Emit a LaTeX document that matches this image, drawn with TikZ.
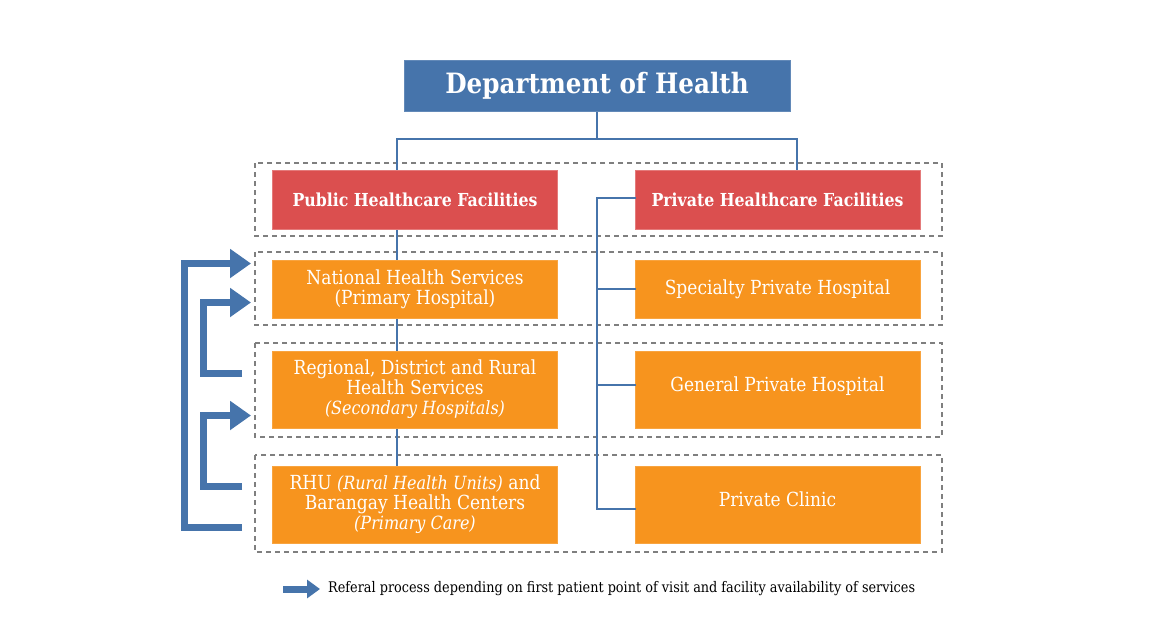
\documentclass[tikz,border=0pt]{standalone}
\usepackage{fontspec}
\setmainfont{DejaVu Serif}[FakeStretch=0.88]
\usetikzlibrary{arrows.meta}
\definecolor{healthblue}{HTML}{4674AB}
\definecolor{healthred}{HTML}{DB4F4F}
\definecolor{healthorange}{HTML}{F7941E}
\definecolor{groupgray}{HTML}{7F7F7F}
\newcommand{\levelit}[1]{{\fontsize{18.2}{20}\selectfont\itshape #1}}
\tikzset{
    deptbox/.style={draw=healthblue!85!white,fill=healthblue,text=white,align=center,
        minimum width=386pt,minimum height=51pt,inner sep=0pt,font=\bfseries\fontsize{28}{30}\selectfont},
    sectorbox/.style={draw=healthred!75!white,fill=healthred,text=white,align=center,
        minimum width=285pt,minimum height=59pt,inner sep=0pt,font=\bfseries\fontsize{17.9}{20}\selectfont},
    levelbox/.style={draw=healthorange!85!white,fill=healthorange,text=white,align=center,
        minimum width=285pt,inner sep=0pt,font=\fontsize{19.4}{20}\selectfont},
    groupbox/.style={draw=groupgray,dashed,dash pattern=on 5pt off 4pt,line width=1.5pt},
    referal/.style={draw=healthblue,line width=7pt,-{Triangle[length=21pt,width=28pt,fill=healthblue]}},
}
\begin{document}
\begin{tikzpicture}[x=1pt,y=-1pt]
\useasboundingbox (0,0) rectangle (1170,643);
\fill[white] (0,0) rectangle (1170,643);

\begin{scope}
    \draw [groupbox] (255,163) rectangle (942,236);
    \draw [groupbox] (255,252) rectangle (942,325);
    \draw [groupbox] (255,343) rectangle (942,437);
    \draw [groupbox] (255,455) rectangle (942,552);
\end{scope}

\begin{scope}
    \coordinate (Bus) at (596.5,139);
    \coordinate (PubX) at (396.5,139);
    \coordinate (PriX) at (796.5,139);
    \coordinate (Trunk) at (596.5,198);

    \coordinate (OuterA) at (242,527.5);
    \coordinate (OuterB) at (184.5,527.5);
    \coordinate (OuterC) at (184.5,263.5);
    \coordinate (OuterD) at (251,263.5);
    \coordinate (UpperA) at (242,373.5);
    \coordinate (UpperB) at (203.5,373.5);
    \coordinate (UpperC) at (203.5,302.5);
    \coordinate (UpperD) at (251,302.5);
    \coordinate (LowerA) at (242,486.5);
    \coordinate (LowerB) at (203.5,486.5);
    \coordinate (LowerC) at (203.5,415.5);
    \coordinate (LowerD) at (251,415.5);
    \coordinate (KeyA) at (283,589);
    \coordinate (KeyB) at (320,589);
\end{scope}

\begin{scope}[every edge/.style={draw=healthblue,line width=2pt,line cap=rect}]
    \path [-] (PubX) edge (PriX);
    \path [-] (Trunk) edge (596.5,509);
    \path [-] (PubX) edge (396.5,466);
    \path [-] (PriX) edge (796.5,170);
    \path [-] (596.5,111) edge (Bus);
\end{scope}

\begin{scope}
    \node [deptbox] (dept) at (597,85.5) {Department of Health};

    \node [sectorbox] (pub) at (415,199.5) {Public Healthcare Facilities};
    \node [sectorbox] (pri) at (777.5,199.5) {Private Healthcare Facilities};

    \node [levelbox,minimum height=58pt] (nat) at (415,289) {National Health Services\\(Primary Hospital)};
    \node [levelbox,minimum height=77pt] (reg) at (415,389.5) {Regional, District and Rural\\Health Services\\\levelit{(Secondary Hospitals)}};
    \node [levelbox,minimum height=77pt] (rhu) at (415,504.5) {RHU \levelit{(Rural Health Units)} and\\Barangay Health Centers\\\levelit{(Primary Care)}};

    \node [levelbox,minimum height=58pt] (spe) at (777.5,289) {\raisebox{-2pt}{Specialty Private Hospital}};
    \node [levelbox,minimum height=77pt] (gen) at (777.5,389.5) {\raisebox{10.5pt}{General Private Hospital}};
    \node [levelbox,minimum height=77pt] (cli) at (777.5,504.5) {\raisebox{10.5pt}{Private Clinic}};

    \node [anchor=west,inner sep=0pt,font=\fontsize{14.6}{16}\selectfont] (key) at (328,589) {Referal process depending on first patient point of visit and facility availability of services};
\end{scope}

\begin{scope}[every edge/.style={draw=healthblue,line width=2pt,line cap=rect}]
    \path [-] (pri.west |- Trunk) edge (Trunk);
    \path [-] (596.5,289) edge (spe.west);
    \path [-] (596.5,385) edge (gen.west |- 0,385);
    \path [-] (596.5,509) edge (cli.west |- 0,509);
\end{scope}

\begin{scope}[miter limit=10]
    \draw [referal] (OuterA) -- (OuterB) -- (OuterC) -- (OuterD);
    \draw [referal] (UpperA) -- (UpperB) -- (UpperC) -- (UpperD);
    \draw [referal] (LowerA) -- (LowerB) -- (LowerC) -- (LowerD);
    \draw [draw=healthblue,line width=7pt,-{Triangle[length=13pt,width=18pt,fill=healthblue]}] (KeyA) -- (KeyB);
\end{scope}
\end{tikzpicture}
\end{document}
